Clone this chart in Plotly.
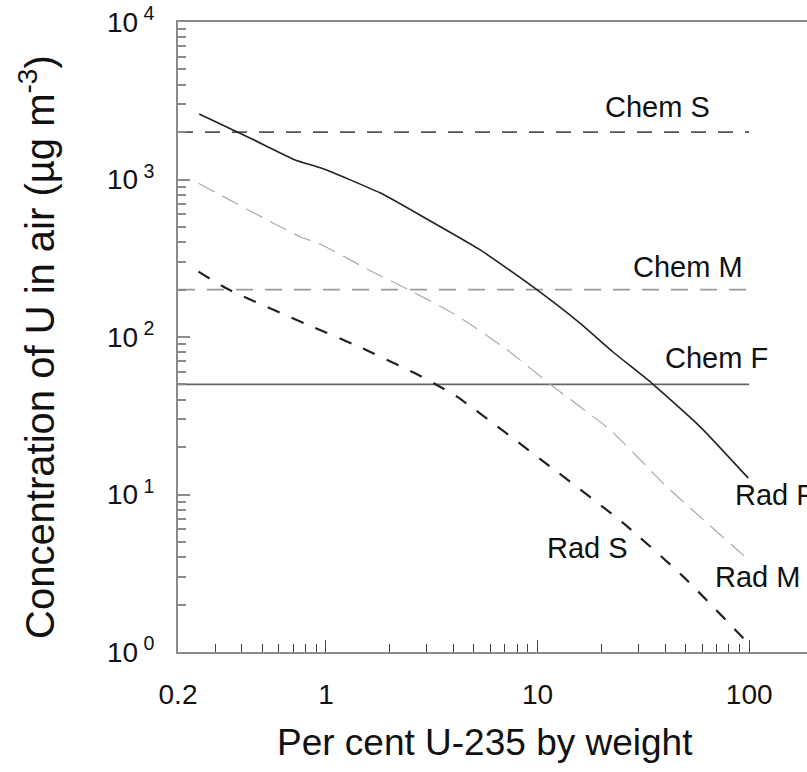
import plotly.graph_objects as go
import math

# ---- data ----
chem_x = [0.2, 100]
chem_s = [2000, 2000]
chem_m = [200, 200]
chem_f = [50, 50]

rad_f_x = [0.252, 0.45, 0.716, 0.957, 1.81, 2.94, 5.36, 9.56, 15.9, 22.8, 34.7, 58.7, 99]
rad_f_y = [2606, 1800, 1330, 1178, 820, 570, 357, 207, 122, 80, 50.8, 26.9, 12.7]

rad_m_x = [0.25, 0.756, 0.923, 1.71, 2.45, 4.0, 7.0, 11.5, 22.0, 40.8, 99.6]
rad_m_y = [946, 433, 393, 254, 200, 141, 85, 50, 25.7, 11.2, 3.84]

rad_s_x = [0.25, 0.347, 0.828, 1.43, 2.64, 3.34, 4.16, 11.5, 25.5, 48.9, 97.5]
rad_s_y = [260, 200, 119, 86.8, 58.8, 49.6, 41.8, 15.0, 6.56, 3.0, 1.16]

x_tickvals = [0.2, 1, 10, 100]
x_ticktext = ["0.2", "1", "10", "100"]
y_tickvals = [1, 10, 100, 1000, 10000]
y_ticktext = ["10<sup> 0</sup>", "10<sup> 1</sup>", "10<sup> 2</sup>", "10<sup> 3</sup>", "10<sup> 4</sup>"]

x_minor = [m * 10 ** d for d in (-1, 0, 1) for m in range(2, 10) if 0.25 < m * 10 ** d < 100]
y_minor = [m * 10 ** d for d in (0, 1, 2, 3) for m in range(2, 10)]

labels = [
    ("Chem S", 657, 107),
    ("Chem M", 688, 267),
    ("Chem F", 716, 358),
    ("Rad F", 774, 495),
    ("Rad M", 757, 577),
    ("Rad S", 587, 548),
]

W, H = 807, 772
L, R, T, B = 178, 0, 22, 120
FONT = "Liberation Sans, Arial, sans-serif"

fig = go.Figure()
fig.add_trace(go.Scatter(x=chem_x, y=chem_s, mode="lines",
                         line=dict(color="#555555", width=1.6, dash="15px,12px")))
fig.add_trace(go.Scatter(x=chem_x, y=chem_m, mode="lines",
                         line=dict(color="#9a9a9a", width=1.6, dash="17px,12px")))
fig.add_trace(go.Scatter(x=chem_x, y=chem_f, mode="lines",
                         line=dict(color="#666666", width=1.6)))
fig.add_trace(go.Scatter(x=rad_f_x, y=rad_f_y, mode="lines",
                         line=dict(color="#222222", width=1.6, shape="spline", smoothing=0.5)))
fig.add_trace(go.Scatter(x=rad_m_x, y=rad_m_y, mode="lines",
                         line=dict(color="#aaaaaa", width=1.2, dash="18px,9px", shape="spline", smoothing=0.6)))
fig.add_trace(go.Scatter(x=rad_s_x, y=rad_s_y, mode="lines",
                         line=dict(color="#222222", width=2.2, dash="13px,13px", shape="spline", smoothing=0.6)))

pw = W - L - R
ph = H - T - B
for text, px, py in labels:
    fig.add_annotation(x=(px - L) / pw, y=(H - B - py) / ph, xref="paper", yref="paper",
                       text=text, showarrow=False, font=dict(size=29, color="#111111", family=FONT),
                       xanchor="center", yanchor="middle")

fig.add_annotation(x=(485 - L) / pw, y=(H - B - 742) / ph, xref="paper", yref="paper",
                   text="Per cent U-235 by weight", showarrow=False,
                   font=dict(size=37, color="#111111", family=FONT), xanchor="center", yanchor="middle")
fig.add_annotation(x=(37 - L) / pw, y=(H - B - 347) / ph, xref="paper", yref="paper",
                   text="Concentration of U in air (µg m<sup>-3</sup>)", textangle=-90, showarrow=False,
                   font=dict(size=40, color="#111111", family=FONT), xanchor="center", yanchor="middle")

fig.update_layout(
    width=W, height=H,
    margin=dict(l=L, r=R, t=T, b=B, pad=0),
    paper_bgcolor="white", plot_bgcolor="white",
    showlegend=False,
    font=dict(family=FONT, color="#111111"),
    xaxis=dict(type="log", range=[math.log10(0.2), 2.273], showgrid=False, zeroline=False,
               showline=True, linecolor="#8a8a8a", linewidth=2, mirror=True,
               tickmode="array", tickvals=x_tickvals, ticktext=x_ticktext,
               ticks="inside", ticklen=12, tickcolor="#444444", tickwidth=1,
               ticklabelstandoff=16, tickfont=dict(size=28, color="#111111"),
               minor=dict(tickmode="array", tickvals=x_minor, ticks="inside", ticklen=8,
                          tickcolor="#444444", tickwidth=1, showgrid=False)),
    yaxis=dict(type="log", range=[0, 4], showgrid=False, zeroline=False,
               showline=True, linecolor="#8a8a8a", linewidth=2,
               tickmode="array", tickvals=y_tickvals, ticktext=y_ticktext,
               ticks="inside", ticklen=12, tickcolor="#8a8a8a", tickwidth=2,
               ticklabelstandoff=16, tickfont=dict(size=28, color="#111111"),
               minor=dict(tickmode="array", tickvals=y_minor, ticks="inside", ticklen=8,
                          tickcolor="#8a8a8a", tickwidth=1.5, showgrid=False)),
)

fig.write_html("out.html")
